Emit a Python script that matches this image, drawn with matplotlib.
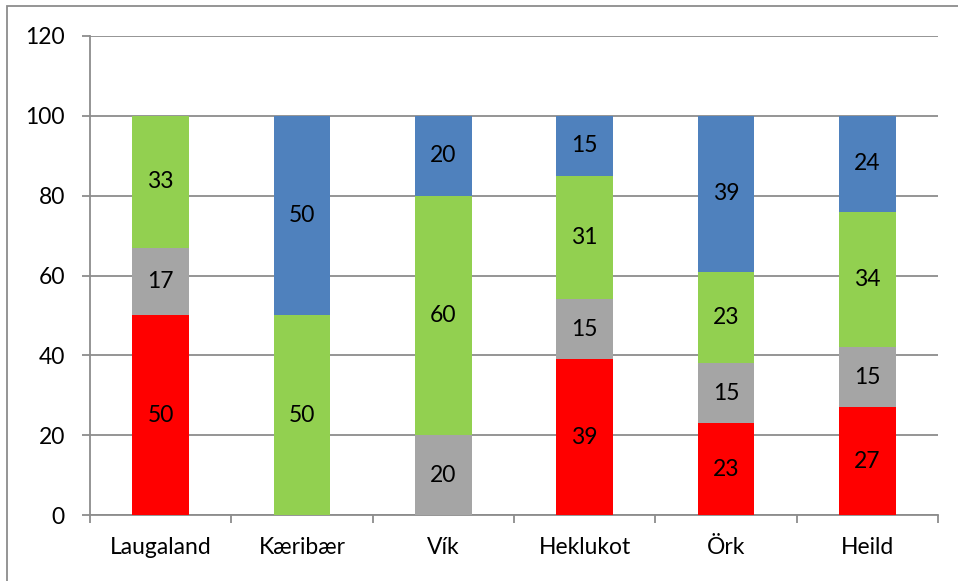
import numpy as np
import matplotlib
matplotlib.use("Agg")
from matplotlib import pyplot as plt
from matplotlib.patches import Rectangle

categories = ["Laugaland", "Kæribær", "Vík", "Heklukot", "Örk", "Heild"]
red_vals = [50, 0, 0, 39, 23, 27]
gray_vals = [17, 0, 20, 15, 15, 15]
green_vals = [33, 50, 60, 31, 23, 34]
blue_vals = [0, 50, 20, 15, 39, 24]

series = [red_vals, gray_vals, green_vals, blue_vals]
colors = ["#FF0000", "#A5A5A5", "#92D050", "#4F81BD"]

plt.rcParams['font.family'] = ['Lato', 'DejaVu Sans']
plt.rcParams['font.size'] = 16.5

fig = plt.figure(figsize=(9.58, 5.81), dpi=100)
ax = fig.add_axes([90 / 958, 1 - 515 / 581, 848 / 958, 479 / 581])

x = np.arange(len(categories))
bottom = np.zeros(len(categories))
for vals, col in zip(series, colors):
    vals = np.array(vals, dtype=float)
    bars = ax.bar(x, vals, bottom=bottom, width=0.4, color=col, zorder=3)
    labels = [str(int(v)) if v > 0 else "" for v in vals]
    ax.bar_label(bars, labels=labels, label_type='center', fontsize=16.5, color='black')
    bottom += vals

grid_col = "#8C8C8C"
ax.set_ylim(0, 120)
ax.set_yticks(range(0, 121, 20))
ax.set_xlim(-0.5, len(categories) - 0.5)
ax.yaxis.grid(True, color=grid_col, linewidth=1.3, zorder=0)
ax.set_axisbelow(True)

# category labels without ticks, ticks at the boundaries
ax.set_xticks(x)
ax.set_xticklabels(categories)
ax.tick_params(axis='x', length=0, pad=16)
ax.set_xticks(np.arange(-0.5, len(categories)), minor=True)
ax.tick_params(axis='x', which='minor', length=6, width=1.3, color=grid_col, direction='out')
ax.tick_params(axis='y', length=6, width=1.3, color=grid_col, pad=12)

for s in ['top', 'right']:
    ax.spines[s].set_visible(False)
for s in ['left', 'bottom']:
    ax.spines[s].set_color(grid_col)
    ax.spines[s].set_linewidth(1.3)

# outer chart border
fig.patches.append(Rectangle((7 / 958, -0.1), 1.2, 1.1 - 6 / 581, transform=fig.transFigure,
                             fill=False, edgecolor="#8C8C8C", linewidth=1.3))

fig.savefig("out.png", dpi=100)
